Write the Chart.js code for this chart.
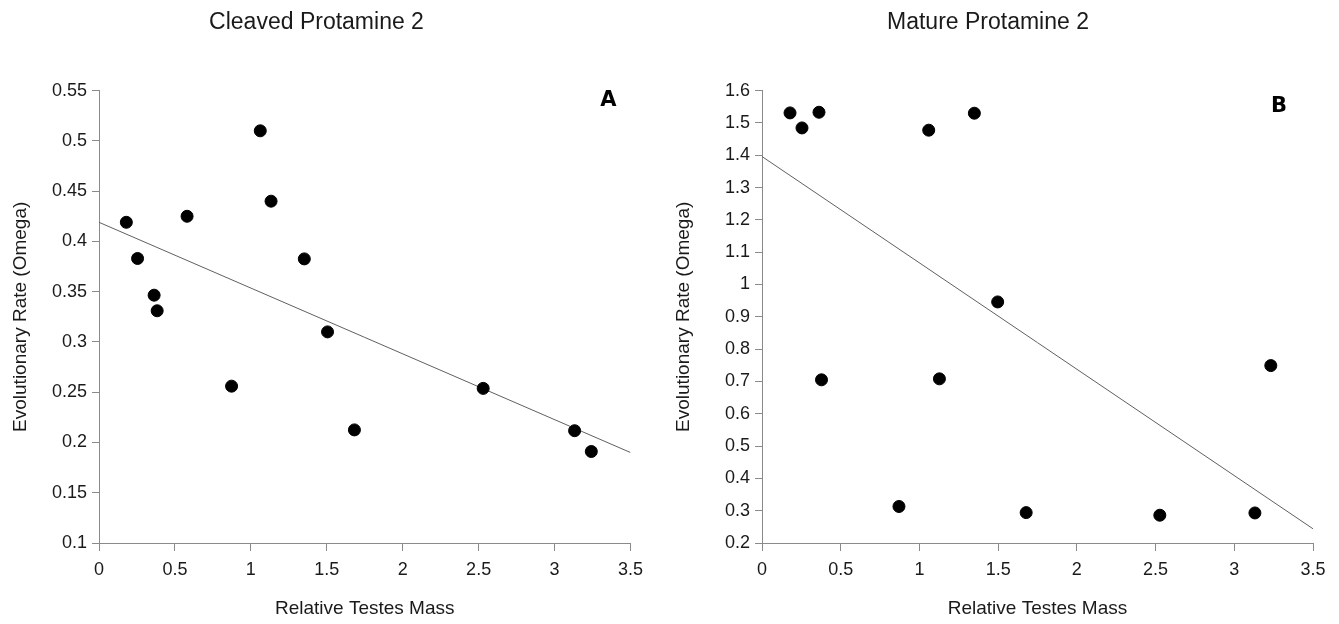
<!DOCTYPE html>
<html>
<head>
<meta charset="utf-8">
<script src="https://cdn.jsdelivr.net/npm/chart.js@4/dist/chart.umd.min.js"></script>
<style>
  body { margin: 0; background: #fff; }
  .panel { position: absolute; top: 0; height: 624px; }
  #panelA { left: 0; width: 651px; }
  #panelB { left: 663px; width: 676px; }
</style>
</head>
<body>
<div class="panel" id="panelA"><canvas id="chartA"></canvas></div>
<div class="panel" id="panelB"><canvas id="chartB"></canvas></div>
<script>
// ================= DATA =================
const massA = [0.18, 0.254, 0.363, 0.383, 0.58, 0.873, 1.062, 1.133, 1.352, 1.505, 1.682, 2.53, 3.132, 3.242];
const omegaA = [0.419, 0.383, 0.3465, 0.331, 0.425, 0.256, 0.51, 0.44, 0.3826, 0.31, 0.2125, 0.2538, 0.2117, 0.191];
const fitXA = [0, 3.5];
const fitYA = [0.419, 0.19];

const massB = [0.178, 0.254, 0.362, 0.378, 0.87, 1.059, 1.127, 1.349, 1.497, 1.678, 2.527, 3.131, 3.232];
const omegaB = [1.531, 1.4845, 1.533, 0.705, 0.313, 1.4775, 0.708, 1.53, 0.946, 0.294, 0.286, 0.293, 0.749];
const fitXB = [0, 3.5];
const fitYB = [1.396, 0.244];

const xTicks = [0, 0.5, 1, 1.5, 2, 2.5, 3, 3.5];
const yTicksA = [0.1, 0.15, 0.2, 0.25, 0.3, 0.35, 0.4, 0.45, 0.5, 0.55];
const yTicksB = [0.2, 0.3, 0.4, 0.5, 0.6, 0.7, 0.8, 0.9, 1, 1.1, 1.2, 1.3, 1.4, 1.5, 1.6];

// ================= STYLE =================
const FONT = "'Liberation Sans', Arial, sans-serif";
const AXIS_GREY = "#8a8a8a";
const TEXT = "#1a1a1a";

// panel letter in the top right corner
const letterPlugin = {
  id: "letter",
  afterDraw(chart, args, opts) {
    const { ctx, chartArea } = chart;
    ctx.save();
    ctx.font = "bold 21px 'DejaVu Sans', sans-serif";
    ctx.fillStyle = "#000";
    ctx.textAlign = "center";
    ctx.textBaseline = "middle";
    ctx.fillText(opts.text, chartArea.right - opts.dx, chartArea.top + opts.dy);
    ctx.restore();
  }
};

function toPoints(xs, ys) {
  return xs.map((x, i) => ({ x: x, y: ys[i] }));
}

function fmt(v) {
  return String(+Number(v).toFixed(2));
}

function makeChart(id, cfg) {
  return new Chart(document.getElementById(id), {
    type: "scatter",
    data: {
      datasets: [
        {
          data: toPoints(cfg.xs, cfg.ys),
          backgroundColor: "#000",
          borderColor: "#000",
          borderWidth: 1,
          pointRadius: 6,
          pointHoverRadius: 6
        },
        {
          type: "line",
          data: toPoints(cfg.fitX, cfg.fitY),
          borderColor: "#606060",
          borderWidth: 1,
          pointRadius: 0,
          fill: false
        }
      ]
    },
    plugins: [letterPlugin],
    options: {
      responsive: true,
      maintainAspectRatio: false,
      animation: false,
      events: [],
      layout: { padding: { left: 0, right: cfg.padRight, top: 0, bottom: 0 } },
      plugins: {
        legend: { display: false },
        tooltip: { enabled: false },
        title: {
          display: true,
          text: cfg.title,
          color: TEXT,
          font: { family: FONT, size: 23, weight: "normal" },
          padding: { top: 9, bottom: 54 }
        },
        letter: { text: cfg.letter, dx: cfg.letterDx, dy: cfg.letterDy }
      },
      scales: {
        x: {
          type: "linear",
          min: 0,
          max: 3.5,
          afterBuildTicks: (s) => { s.ticks = xTicks.map(v => ({ value: v })); },
          afterFit: (s) => { s.height = 81; },
          grid: { drawOnChartArea: false, drawTicks: true, tickLength: 8, color: AXIS_GREY },
          border: { color: AXIS_GREY, width: 1 },
          ticks: { color: TEXT, font: { family: FONT, size: 18 }, padding: 8, maxRotation: 0, callback: fmt },
          title: {
            display: true,
            text: "Relative Testes Mass",
            color: TEXT,
            font: { family: FONT, size: 19 },
            padding: { top: 0, bottom: 4 }
          }
        },
        y: {
          type: "linear",
          min: cfg.yMin,
          max: cfg.yMax,
          afterBuildTicks: (s) => { s.ticks = cfg.yTicks.map(v => ({ value: v })); },
          afterFit: (s) => { s.width = 99; },
          grid: { drawOnChartArea: false, drawTicks: true, tickLength: 7, color: AXIS_GREY },
          border: { color: AXIS_GREY, width: 1 },
          ticks: { color: TEXT, font: { family: FONT, size: 18 }, padding: 5, callback: fmt },
          title: {
            display: true,
            text: "Evolutionary Rate (Omega)",
            color: TEXT,
            font: { family: FONT, size: 19 },
            padding: { top: 9, bottom: 0 }
          }
        }
      }
    }
  });
}

// ================= INIT =================
makeChart("chartA", {
  title: "Cleaved Protamine 2", letter: "A", letterDx: 22, letterDy: 10,
  xs: massA, ys: omegaA, fitX: fitXA, fitY: fitYA,
  yMin: 0.1, yMax: 0.55, yTicks: yTicksA, padRight: 18
});

makeChart("chartB", {
  title: "Mature Protamine 2", letter: "B", letterDx: 34, letterDy: 16,
  xs: massB, ys: omegaB, fitX: fitXB, fitY: fitYB,
  yMin: 0.2, yMax: 1.6, yTicks: yTicksB, padRight: 26
});
</script>
</body>
</html>
